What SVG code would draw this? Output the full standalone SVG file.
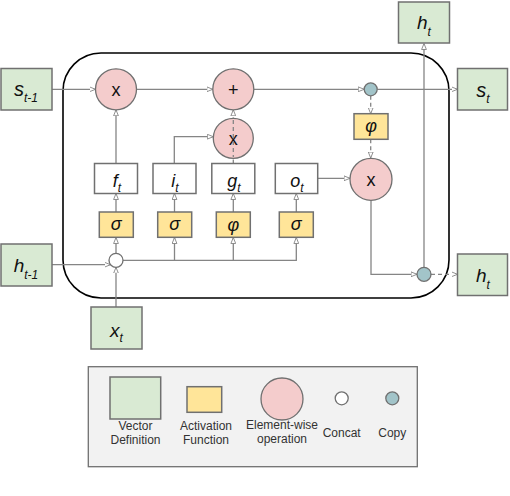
<svg xmlns="http://www.w3.org/2000/svg" width="510" height="496" viewBox="0 0 510 496">
<style>
.vec{fill:#d9ead3;stroke:#707070;stroke-width:1.5}
.act{fill:#ffe599;stroke:#707070;stroke-width:1.5}
.gate{fill:#fff;stroke:#707070;stroke-width:1.5}
.op{fill:#f4cccc;stroke:#707070;stroke-width:1.3}
.cat{fill:#fff;stroke:#707070;stroke-width:1.3}
.cp{fill:#a2c4c9;stroke:#707070;stroke-width:1.3}
.ln{fill:none;stroke:#858585;stroke-width:1.3;marker-end:url(#ah)}
.ln0{fill:none;stroke:#858585;stroke-width:1.3}
.dash{stroke-dasharray:4 3}
.lbl{font-family:"Liberation Sans",Arial,sans-serif;font-style:italic;fill:#111}
.sym{font-family:"Liberation Sans",Arial,sans-serif;font-size:18px;fill:#111;text-anchor:middle}
.leg{font-family:"Liberation Sans",Arial,sans-serif;font-size:12px;fill:#333;text-anchor:middle}
</style>
<defs>
<marker id="ah" viewBox="0 0 10 10" refX="10" refY="5" markerWidth="6" markerHeight="6" markerUnits="userSpaceOnUse" orient="auto">
<path d="M0,1 L10,5 L0,9 z" fill="#fff" stroke="#858585" stroke-width="1.5"/>
</marker>
</defs>
<rect width="510" height="496" fill="#fff"/>

<g id="cell"><rect x="63" y="53" width="386" height="245" rx="38" ry="38" fill="none" stroke="#000" stroke-width="1.6"/></g>

<g id="connectors">
<path class="ln" d="M52,89.3 H95.5"/>
<path class="ln" d="M136.5,89.3 H212.8"/>
<path class="ln" d="M253.8,89.3 H364.2"/>
<path class="ln" d="M377.2,89.3 H457.5"/>
<path class="ln" d="M116,163.5 V109.8"/>
<path class="ln" d="M174.3,163.5 V136.7 H213.3"/>
<path class="ln dash" d="M233.3,163.5 V109.8"/>
<path class="ln" d="M116,253.3 V237.5"/>
<path class="ln" d="M116,307 V267.3"/>
<path class="ln" d="M52,264.7 H110.5"/>
<path class="ln" d="M123,260.3 H296.3 V237.5"/>
<path class="ln" d="M174.5,260.3 V237.5"/>
<path class="ln" d="M233.3,260.3 V237.5"/>
<path class="ln" d="M116,212 V193.5"/>
<path class="ln" d="M174.5,212 V193.5"/>
<path class="ln" d="M233.3,212 V193.5"/>
<path class="ln" d="M296.3,212 V193.5"/>
<path class="ln dash" d="M370.7,95.8 V113.7"/>
<path class="ln dash" d="M370.7,139.3 V158"/>
<path class="ln" d="M317.7,178.3 H350"/>
<path class="ln" d="M371,200.5 V274.3 H417"/>
<path class="ln" d="M424,267.3 V43.5"/>
<path class="ln dash" d="M431,274.3 H457.5"/>
</g>

<g id="s_prev"><rect class="vec" x="1" y="68.5" width="51" height="41.5"/><text class="lbl" x="26" y="96" text-anchor="middle" font-size="20">s<tspan font-size="12" dy="6">t-1</tspan></text></g>
<g id="h_prev"><rect class="vec" x="1" y="244" width="51" height="42"/><text class="lbl" x="26" y="272" text-anchor="middle" font-size="19">h<tspan font-size="12" dy="6.5">t-1</tspan></text></g>
<g id="x_t"><rect class="vec" x="91" y="307" width="51" height="42"/><text class="lbl" x="116.5" y="337" text-anchor="middle" font-size="19" font-style="normal">x<tspan font-size="12" dy="5" font-style="italic">t</tspan></text></g>
<g id="h_top"><rect class="vec" x="398.5" y="2" width="51" height="41"/><text class="lbl" x="424" y="29" text-anchor="middle" font-size="19">h<tspan font-size="12" dy="6.5">t</tspan></text></g>
<g id="s_t"><rect class="vec" x="457.5" y="68.5" width="50" height="41.5"/><text class="lbl" x="483" y="97" text-anchor="middle" font-size="20">s<tspan font-size="12" dy="6">t</tspan></text></g>
<g id="h_t"><rect class="vec" x="457.5" y="254" width="50" height="41.5"/><text class="lbl" x="483" y="282" text-anchor="middle" font-size="19">h<tspan font-size="12" dy="6.5">t</tspan></text></g>

<g id="mul_f"><circle class="op" cx="116" cy="89.3" r="20.5"/><text class="sym" x="116" y="95.5">x</text></g>
<g id="add"><circle class="op" cx="233.3" cy="89.3" r="20.5"/><text class="sym" x="233.3" y="95.5">+</text></g>
<g id="mul_i"><circle class="op" cx="233.3" cy="138.3" r="20"/><text class="sym" x="233.3" y="144.5">x</text></g>
<path class="ln0 dash" d="M233.3,120 V157"/>
<g id="mul_o"><circle class="op" cx="371" cy="179.3" r="21"/><text class="sym" x="371" y="185.5">x</text></g>
<g id="copy1"><circle class="cp" cx="370.7" cy="89.3" r="6.5"/></g>
<g id="copy2"><circle class="cp" cx="424" cy="274.3" r="7"/></g>
<g id="concat"><circle class="cat" cx="116" cy="260.3" r="7"/></g>

<g id="f_t"><rect class="gate" x="94.5" y="163.5" width="43" height="30"/><text class="lbl" x="117" y="186.5" text-anchor="middle" font-size="18">f<tspan font-size="12" dy="5">t</tspan></text></g>
<g id="i_t"><rect class="gate" x="153" y="163.5" width="43" height="30"/><text class="lbl" x="175" y="186.5" text-anchor="middle" font-size="18">i<tspan font-size="12" dy="5">t</tspan></text></g>
<g id="g_t"><rect class="gate" x="211.8" y="163.5" width="43" height="30"/><text class="lbl" x="234" y="186.5" text-anchor="middle" font-size="18">g<tspan font-size="12" dy="5">t</tspan></text></g>
<g id="o_t"><rect class="gate" x="275.3" y="163.5" width="42.4" height="30"/><text class="lbl" x="297" y="186.5" text-anchor="middle" font-size="18">o<tspan font-size="12" dy="5">t</tspan></text></g>

<g id="sig_f"><rect class="act" x="99.3" y="212" width="34" height="25.3"/><text class="lbl" x="116.3" y="230" text-anchor="middle" font-size="18">σ</text></g>
<g id="sig_i"><rect class="act" x="157.7" y="212" width="34" height="25.3"/><text class="lbl" x="174.7" y="230" text-anchor="middle" font-size="18">σ</text></g>
<g id="phi_g"><rect class="act" x="216.3" y="212" width="34" height="25.3"/><text class="lbl" x="233.3" y="230.5" text-anchor="middle" font-size="18">φ</text></g>
<g id="sig_o"><rect class="act" x="279.3" y="212" width="34" height="25.3"/><text class="lbl" x="296.3" y="230" text-anchor="middle" font-size="18">σ</text></g>
<g id="phi_s"><rect class="act" x="354" y="113.7" width="34" height="25.6"/><text class="lbl" x="371" y="132" text-anchor="middle" font-size="18">φ</text></g>

<g id="legend">
<rect x="88.3" y="366.7" width="329" height="100" fill="#f2f2f2" stroke="#707070" stroke-width="1.3"/>
<rect class="vec" x="110" y="377" width="50.7" height="42"/>
<rect class="act" x="187" y="386.7" width="34.7" height="25.6"/>
<circle class="op" cx="282" cy="399" r="21"/>
<circle class="cat" cx="341.7" cy="398.3" r="6.5"/>
<circle class="cp" cx="392.3" cy="398.3" r="6.5"/>
<text class="leg" x="135.5" y="430">Vector</text>
<text class="leg" x="135.5" y="443.5">Definition</text>
<text class="leg" x="206" y="430">Activation</text>
<text class="leg" x="206" y="443.5">Function</text>
<text class="leg" x="282" y="429">Element-wise</text>
<text class="leg" x="282" y="442.5">operation</text>
<text class="leg" x="341.7" y="436.5">Concat</text>
<text class="leg" x="392.3" y="436.5">Copy</text>
</g>
</svg>
